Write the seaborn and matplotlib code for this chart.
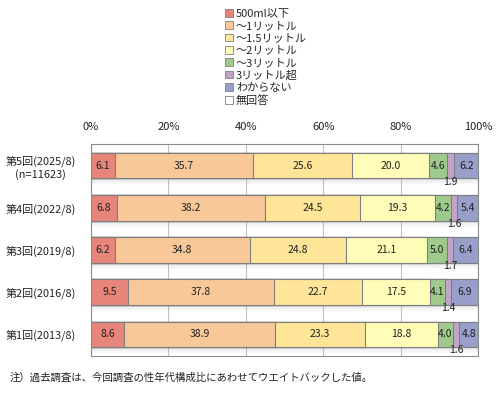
import matplotlib
matplotlib.use("Agg")
import matplotlib.pyplot as plt
import matplotlib.patches as mpatches
import seaborn as sns
import pandas as pd
import numpy as np

sns.set_theme(style="white")
plt.rcParams['font.family'] = ['Noto Sans CJK JP', 'DejaVu Sans']

surveys = ["第5回(2025/8)\n(n=11623)", "第4回(2022/8)", "第3回(2019/8)", "第2回(2016/8)", "第1回(2013/8)"]
categories = ["500ml以下", "～1リットル", "～1.5リットル", "～2リットル", "～3リットル", "3リットル超", "わからない", "無回答"]
v_500ml = [6.1, 6.8, 6.2, 9.5, 8.6]
v_1l = [35.7, 38.2, 34.8, 37.8, 38.9]
v_15l = [25.6, 24.5, 24.8, 22.7, 23.3]
v_2l = [20.0, 19.3, 21.1, 17.5, 18.8]
v_3l = [4.6, 4.2, 5.0, 4.1, 4.0]
v_over3 = [1.9, 1.6, 1.7, 1.4, 1.6]
v_unknown = [6.2, 5.4, 6.4, 6.9, 4.8]
v_noans = [0.0, 0.0, 0.0, 0.0, 0.0]
colors = ["#E8857B", "#F9C898", "#FFE598", "#FFFDB8", "#9ECB8C", "#C3A3C8", "#979FCA", "#FFFFFF"]
note = "注）過去調査は、今回調査の性年代構成比にあわせてウエイトバックした値。"

series = [v_500ml, v_1l, v_15l, v_2l, v_3l, v_over3, v_unknown, v_noans]
vals = np.array(series)  # shape (cats, surveys)
cum = np.cumsum(vals, axis=0)

fig = plt.figure(figsize=(5.02, 3.93), dpi=100)
ax = fig.add_axes([91/502, 1-356/393, (478-91)/502, (356-144)/393])

# shadows under bars
for i in range(len(surveys)):
    for k in range(6):
        ax.add_patch(mpatches.Rectangle((0, i + 0.3 + k*0.025), 100, 0.025,
                                        facecolor=(0.5, 0.5, 0.5, 0.18 - k*0.03), edgecolor='none', zorder=1))

# stacked bars via cumulative sums, drawn from the last category backwards
for ci in range(len(categories) - 1, -1, -1):
    df = pd.DataFrame({"survey": surveys, "value": cum[ci]})
    sns.barplot(data=df, y="survey", x="value", orient="h", color=colors[ci],
                width=0.6, edgecolor="#7f7f7f", linewidth=0.8, ax=ax, zorder=2,
                saturation=1)

# value labels
for ci in range(len(categories)):
    for si in range(len(surveys)):
        v = vals[ci, si]
        if v <= 0:
            continue
        xc = cum[ci, si] - v / 2
        if v >= 3:
            ax.text(xc, si, f"{v:.1f}", ha="center", va="center", fontsize=7.5, color="#222222", zorder=5)
        else:
            ax.text(xc, si + 0.38, f"{v:.1f}", ha="center", va="center", fontsize=7.5, color="#222222", zorder=5)

ax.set_xlim(0, 100)
ax.set_ylim(4.52, -0.52)
ax.set_xticks([0, 20, 40, 60, 80, 100])
ax.set_xticklabels([f"{t}%" for t in [0, 20, 40, 60, 80, 100]])
ax.xaxis.tick_top()
ax.tick_params(axis='x', length=0, pad=9, labelsize=8, colors="#222222")
ax.tick_params(axis='y', length=0, pad=11, labelsize=7.9, colors="#222222")
for lab in ax.get_yticklabels():
    lab.set_multialignment("center")
ax.set_xlabel("")
ax.set_ylabel("")
ax.grid(axis='x', color="#c0c0c0", linewidth=0.8, zorder=0)
ax.set_axisbelow(True)
for s in ax.spines.values():
    s.set_color("#8c8c8c")
    s.set_linewidth(0.8)

handles = [mpatches.Patch(facecolor=c, edgecolor="#7f7f7f", linewidth=0.6, label=l)
           for c, l in zip(colors, categories)]
fig.legend(handles=handles, loc="upper left", bbox_to_anchor=(216/502, 1 - 0/393),
           frameon=False, fontsize=8, handlelength=0.7, handleheight=0.7,
           handletextpad=0.3, labelspacing=0.2, borderpad=0.3)

fig.text(10/502, 1 - 378/393, note, fontsize=7.5, va="center", ha="left", color="#222222")

fig.savefig("out.png", dpi=100)
